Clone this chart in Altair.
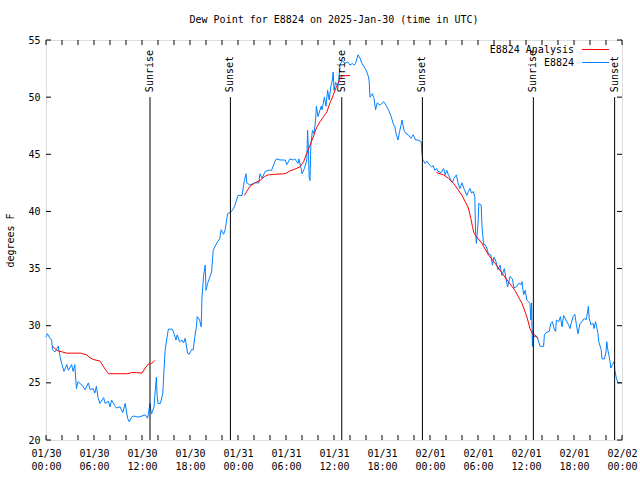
import json
import altair as alt
import pandas as pd

# ---------------- data (hours since 2025-01-30 00:00 UTC, degrees F) ----------------
obs_hours = [0.0, 0.17, 0.4, 0.7, 0.83, 1.1, 1.3, 1.54, 1.75, 1.96, 2.25, 2.6, 2.8, 3.2, 3.4, 3.6,
             3.8, 4.0, 4.5, 4.9, 5.3, 5.5, 5.9, 6.1, 6.3, 6.5, 6.75, 7.2, 7.4, 7.8, 8.0, 8.2, 8.6,
             8.8, 9.25, 9.6, 9.9, 10.2, 10.4, 10.7, 11.0, 11.5, 12.0, 12.4, 12.7, 13.0, 13.1, 13.2,
             13.5, 13.6, 13.8, 13.9, 14.0, 14.3, 14.6, 14.75, 14.9, 15.2, 15.3, 15.8, 16.0, 16.25,
             16.4, 16.7, 17.0, 17.2, 17.4, 17.7, 17.9, 18.2, 18.4, 18.6, 18.8, 18.9, 19.2, 19.4,
             19.5, 19.7, 19.9, 20.0, 20.2, 20.5, 20.7, 20.9, 21.1, 21.4, 21.7, 21.9, 22.2, 22.4,
             22.7, 23.0, 23.3, 23.6, 24.0, 24.5, 24.7, 24.8, 25.0, 25.1, 25.5, 26.1, 26.6, 26.75,
             27.0, 27.4, 27.8, 28.2, 28.6, 28.8, 29.25, 29.9, 30.1, 30.5, 30.9, 31.1, 31.5, 31.6,
             31.9, 32.0, 32.3, 32.6, 32.7, 32.8, 32.9, 33.0, 33.1, 33.3, 33.5, 33.7, 33.8, 34.0,
             34.4, 34.5, 34.8, 35.0, 35.2, 35.4, 35.6, 35.8, 35.9, 36.0, 36.2, 36.5, 36.6, 36.75,
             37.0, 37.4, 37.7, 38.0, 38.3, 38.5, 38.7, 39.0, 39.25, 39.5, 39.9, 40.1, 40.3, 40.4,
             40.5, 40.8, 41.0, 41.2, 41.4, 41.75, 42.2, 42.5, 42.8, 43.1, 43.4, 43.6, 43.8, 44.0,
             44.2, 44.4, 44.5, 44.75, 45.0, 45.3, 45.6, 45.9, 46.2, 46.5, 46.9, 47.0, 47.1, 47.4,
             47.6, 47.9, 48.2, 48.4, 48.6, 48.8, 49.0, 49.4, 49.7, 49.9, 50.1, 50.3, 50.6, 50.8,
             51.0, 51.3, 51.5, 51.75, 52.0, 52.3, 52.6, 52.8, 53.0, 53.2, 53.4, 53.6, 53.7, 53.8,
             54.0, 54.1, 54.4, 54.5, 54.7, 54.9, 55.1, 55.3, 55.6, 55.8, 56.0, 56.25, 56.5, 56.75,
             57.0, 57.3, 57.5, 57.7, 58.0, 58.3, 58.5, 58.8, 59.1, 59.4, 59.5, 59.7, 59.9, 60.1,
             60.3, 60.5, 60.6, 60.7, 60.8, 60.9, 61.0, 61.3, 61.5, 61.75, 62.2, 62.3, 62.5, 62.9,
             63.1, 63.3, 63.5, 63.7, 63.8, 64.1, 64.3, 64.5, 64.7, 65.0, 65.3, 65.5, 65.7, 65.9,
             66.1, 66.3, 66.5, 66.75, 67.0, 67.3, 67.5, 67.6, 67.8, 67.9, 68.1, 68.4, 68.5, 68.7,
             69.0, 69.1, 69.4, 69.5, 69.8, 70.0, 70.1, 70.2, 70.4, 70.5, 70.6, 70.8, 71.0, 71.1,
             71.3, 71.5, 72.0]
obs_values = [29.0, 29.3, 29.0, 28.75, 27.9, 27.7, 27.9, 28.2, 27.3, 26.7, 26.0, 26.6, 26.1, 26.6, 26.0, 26.6,
              24.5, 25.1, 24.8, 24.4, 25.0, 24.4, 24.5, 24.1, 24.7, 23.7, 23.2, 23.7, 23.2, 23.4, 22.9, 23.5, 23.0,
              22.8, 22.9, 22.4, 23.2, 21.9, 21.6, 22.0, 22.1, 22.0, 22.1, 22.2, 21.9, 23.2, 22.6, 22.3,
              22.9, 23.8, 25.5, 23.8, 23.2, 23.2, 24.1, 26.1, 27.9, 29.3, 29.7, 29.7, 29.3, 28.75,
              29.2, 28.6, 28.75, 28.5, 28.9, 27.6, 27.5, 27.9, 27.9, 29.0, 29.9, 30.8, 30.5, 29.9,
              32.5, 34.4, 35.3, 33.1, 33.7, 34.3, 34.7, 36.6, 36.9, 37.3, 37.6, 38.4, 38.0, 38.4,
              39.8, 39.9, 40.1, 40.5, 41.4, 41.4, 42.3, 42.7, 43.3, 42.5, 42.3, 42.5, 42.5, 43.3,
              42.9, 43.5, 43.6, 43.6, 44.35, 44.6, 44.5, 44.5, 44.1, 44.6, 44.5, 44.6, 44.2, 44.6,
              43.75, 43.3, 43.75, 44.5, 47.1, 45.4, 43.0, 42.7, 45.7, 47.1, 46.8, 48.0, 49.2, 48.3,
              49.2, 48.9, 50.0, 49.2, 50.6, 49.75, 50.9, 51.5, 52.2, 50.6, 51.3, 50.9, 51.6, 52.8,
              53.2, 52.95, 53.1, 52.8, 52.95, 52.8, 52.95, 53.7, 53.4, 52.95, 52.5, 52.2, 51.8, 51.35,
              50.0, 50.3, 49.9, 48.9, 49.5, 49.3, 49.6, 49.3, 48.9, 48.4, 47.7, 47.4, 46.7, 46.25,
              47.0, 47.6, 48.0, 47.1, 46.8, 46.7, 46.4, 46.7, 46.25, 46.25, 46.1, 45.1, 44.5, 44.2,
              44.4, 44.1, 43.9, 44.0, 43.6, 43.75, 43.5, 43.4, 43.75, 43.2, 43.6, 43.2, 42.75, 42.5,
              42.9, 43.2, 42.5, 42.0, 42.5, 41.9, 41.4, 41.75, 42.0, 41.6, 41.75, 41.3, 38.1, 37.2,
              38.95, 40.7, 40.55, 38.7, 37.1, 37.1, 36.8, 36.3, 36.2, 35.3, 36.0, 35.6, 34.9, 35.3,
              34.4, 35.0, 34.1, 33.4, 34.3, 34.1, 33.3, 33.4, 33.7, 33.6, 33.85, 32.7, 33.1, 32.25,
              32.1, 31.95, 30.5, 32.0, 28.2, 29.6, 29.0, 29.1, 28.8, 28.2, 28.2, 29.2, 29.4, 29.5,
              30.2, 30.35, 29.75, 29.5, 30.5, 30.35, 30.8, 29.9, 30.9, 30.5, 30.1, 29.75, 30.35, 30.8,
              31.0, 30.1, 29.3, 30.2, 30.35, 30.65, 30.5, 30.8, 31.7, 30.65, 30.1, 30.2, 29.75, 30.35,
              29.3, 28.6, 27.9, 27.1, 27.1, 27.7, 28.6, 28.0, 27.3, 26.85, 26.3, 26.6, 26.85, 26.1,
              25.4, 25.0, 25.0]

ana_hours = [0.83, 1.1, 1.5, 2.6, 4.3, 5.1, 5.5, 5.9, 6.75, 7.2, 7.6, 7.8, 8.4, 10.2, 10.7, 11.3,
             12.0, 12.4, 12.8, 13.2, 13.6,
             24.8, 25.1, 25.5, 26.1, 26.75, 27.3, 27.8, 28.6, 29.9, 30.5, 31.1, 31.75, 32.2, 32.6,
             33.0, 33.4, 33.8, 34.25, 34.7, 35.1, 35.5, 35.8, 36.3, 36.75, 37.0, 38.0,
             48.8, 49.7, 50.3, 50.9, 51.5, 52.0, 52.4, 52.8, 53.1, 53.3, 53.5, 53.8, 54.5, 55.3,
             56.1, 57.0, 57.8, 58.6, 59.5, 60.1, 60.5, 60.8, 61.1, 61.5]
ana_values = [28.2, 28.0, 27.8, 27.6, 27.6, 27.45, 27.2, 27.05, 26.9, 26.4, 26.0, 25.8, 25.8, 25.8, 25.9, 25.9,
              25.85, 26.3, 26.65, 26.7, 26.95,
              41.4, 41.75, 42.2, 42.5, 42.7, 43.05, 43.2, 43.25, 43.3, 43.55, 43.7, 43.9, 44.35, 45.1,
              45.8, 46.5, 47.3, 47.85, 48.3, 48.7, 49.5, 50.0, 50.9, 51.6, 51.85, 51.9,
              43.4, 43.2, 42.9, 42.5, 41.9, 41.4, 40.85, 40.3, 39.4, 38.7, 38.1, 37.8, 37.2, 36.2,
              35.5, 34.6, 33.85, 33.1, 31.95, 30.8, 29.75, 29.3, 29.2, 28.9]
ana_segment = [1] * 21 + [2] * 26 + [3] * 24

sun_hours = [13.0, 23.05, 36.97, 47.05, 60.92, 71.08]
sun_labels = ["Sunrise", "Sunset", "Sunrise", "Sunset", "Sunrise", "Sunset"]

x_tick_hours = [0, 6, 12, 18, 24, 30, 36, 42, 48, 54, 60, 66, 72]
x_tick_dates = ["01/30", "01/30", "01/30", "01/30", "01/31", "01/31", "01/31", "01/31",
                "02/01", "02/01", "02/01", "02/01", "02/02"]
x_tick_times = ["00:00", "06:00", "12:00", "18:00", "00:00", "06:00", "12:00", "18:00",
                "00:00", "06:00", "12:00", "18:00", "00:00"]
x_minor_hours = list(range(0, 73, 2))
y_ticks = [20, 25, 30, 35, 40, 45, 50, 55]

title_text = "Dew Point for E8824 on 2025-Jan-30 (time in UTC)"
legend_labels = ["E8824 Analysis", "E8824"]

# ---------------- styling ----------------
W, H = 576, 400
FONT = "DejaVu Sans Mono"
RED = "#ff0000"
BLUE = "#0080ff"

obs = pd.DataFrame({"hour": obs_hours, "value": obs_values})
ana = pd.DataFrame({"hour": ana_hours, "value": ana_values, "seg": ana_segment})
sun = pd.DataFrame({"hour": sun_hours, "label": sun_labels})
xt = pd.DataFrame({"hour": x_minor_hours})
yt = pd.DataFrame({"value": y_ticks})
one = pd.DataFrame({"k": [0]})

xscale = alt.Scale(domain=[0, 72], nice=False, zero=False)
yscale = alt.Scale(domain=[20, 55], nice=False, zero=False)

idx = "round(datum.value/6)"
label_expr = "[{d}[{i}], {t}[{i}]]".format(d=json.dumps(x_tick_dates), t=json.dumps(x_tick_times), i=idx)

x_axis = alt.Axis(values=x_tick_hours, labelExpr=label_expr, title=None, ticks=False, tickSize=0,
                  domain=False, grid=False, labelFont=FONT, labelFontSize=10, labelColor="black",
                  labelBaseline="top", labelLineHeight=13, labelPadding=8, labelFlush=False,
                  labelOverlap=False, labelAlign="center")
y_axis = alt.Axis(values=y_ticks, title="degrees F", ticks=False, tickSize=0, domain=False, grid=False,
                  labelFont=FONT, labelFontSize=10, labelColor="black", labelPadding=6,
                  labelFlush=False, labelOverlap=False,
                  titleFont=FONT, titleFontSize=10, titleFontWeight="normal", titleColor="black",
                  titleX=-36, titleY=200, titleAngle=270, titleAlign="center", titleBaseline="middle")

X = alt.X("hour:Q", scale=xscale, axis=x_axis)
Y = alt.Y("value:Q", scale=yscale, axis=y_axis)

obs_line = alt.Chart(obs).mark_line(color=BLUE, strokeWidth=1).encode(x=X, y=Y)

ana_line = alt.Chart(ana).mark_line(color=RED, strokeWidth=1).encode(x=X, y=Y, detail="seg:N")

sun_rules = alt.Chart(sun).mark_rule(color="black", strokeWidth=1).encode(
    x=X,
    y=alt.datum(20),
    y2=alt.datum(50),
)

sun_text = alt.Chart(sun).mark_text(angle=270, align="left", baseline="middle", dx=5,
                                    font=FONT, fontSize=10, color="black").encode(
    x=X,
    y=alt.datum(50),
    text="label:N",
)

tick_bottom = alt.Chart(xt).mark_rule(color="black", strokeWidth=1).encode(
    x=X, y=alt.value(H), y2=alt.value(H - 5))
tick_top = alt.Chart(xt).mark_rule(color="black", strokeWidth=1).encode(
    x=X, y=alt.value(0), y2=alt.value(5))
tick_left = alt.Chart(yt).mark_rule(color="black", strokeWidth=1).encode(
    y=Y, x=alt.value(0), x2=alt.value(5))
tick_right = alt.Chart(yt).mark_rule(color="black", strokeWidth=1).encode(
    y=Y, x=alt.value(W - 5), x2=alt.value(W))

leg_text1 = alt.Chart(one).mark_text(align="right", baseline="middle", font=FONT, fontSize=10,
                                     color="black", text=legend_labels[0]).encode(
    x=alt.value(528), y=alt.value(10))
leg_text2 = alt.Chart(one).mark_text(align="right", baseline="middle", font=FONT, fontSize=10,
                                     color="black", text=legend_labels[1]).encode(
    x=alt.value(528), y=alt.value(23))
leg_line1 = alt.Chart(one).mark_rule(color=RED, strokeWidth=1).encode(
    x=alt.value(536), x2=alt.value(563), y=alt.value(9.5))
leg_line2 = alt.Chart(one).mark_rule(color=BLUE, strokeWidth=1).encode(
    x=alt.value(536), x2=alt.value(563), y=alt.value(22.5))

chart = alt.layer(
    obs_line, sun_rules, sun_text, ana_line,
    tick_bottom, tick_top, tick_left, tick_right,
    leg_text1, leg_text2, leg_line1, leg_line2,
).properties(
    width=W, height=H,
    title=alt.TitleParams(title_text, font=FONT, fontSize=10, fontWeight="normal", color="black",
                          anchor="middle", offset=2, baseline="alphabetic"),
    autosize=alt.AutoSizeParams(type="none"),
    padding={"left": 46, "top": 40, "right": 18, "bottom": 40},
).configure_view(stroke="black", strokeWidth=1).configure(background="white")

chart.save("out.html", embed_options={"renderer": "svg", "actions": False})
